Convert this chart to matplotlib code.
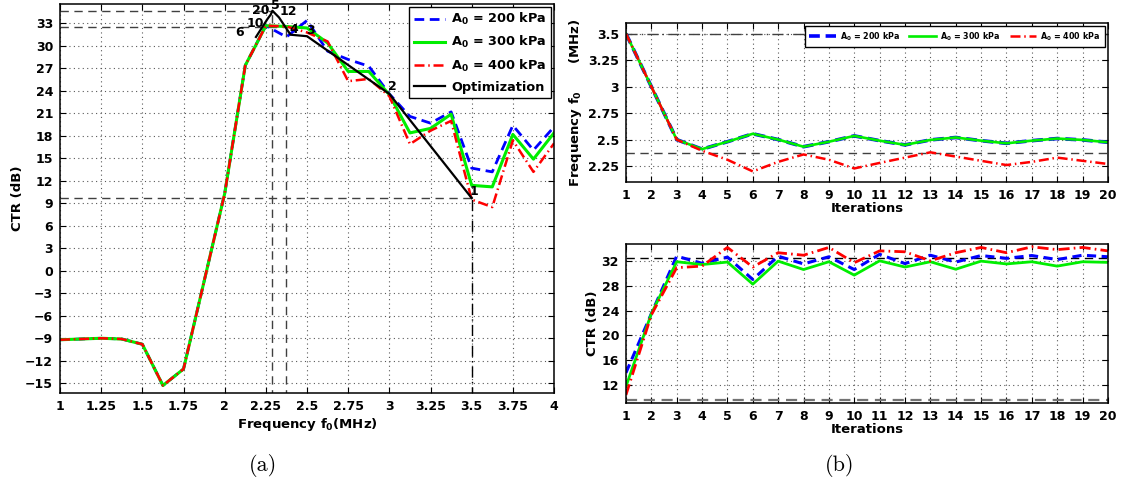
import matplotlib
matplotlib.use("Agg")
import matplotlib.pyplot as plt
import numpy as np

plt.rcParams['font.family'] = ['DejaVu Sans']
plt.rcParams['font.weight'] = 'bold'
plt.rcParams['mathtext.default'] = 'bf'
plt.rcParams['axes.linewidth'] = 1.1

# ---------------- data (a) ----------------
freq = [1.0, 1.125, 1.25, 1.375, 1.5, 1.625, 1.75, 1.875, 2.0, 2.125, 2.25, 2.375,
        2.5, 2.625, 2.75, 2.875, 3.0, 3.125, 3.25, 3.375, 3.5, 3.625, 3.75, 3.875, 4.0]
ctr_200 = [-9.2, -9.1, -9.0, -9.1, -9.8, -15.3, -13.1, -1.4, 10.3, 27.4, 32.7, 31.2,
           33.4, 29.3, 28.2, 27.3, 23.6, 20.6, 19.7, 21.2, 13.7, 13.2, 19.4, 16.1, 19.2]
ctr_300 = [-9.2, -9.1, -9.0, -9.1, -9.8, -15.3, -13.1, -1.4, 10.3, 27.4, 32.7, 32.6,
           32.4, 30.4, 26.6, 26.6, 23.5, 18.4, 19.0, 20.9, 11.4, 11.2, 18.2, 14.9, 18.4]
ctr_400 = [-9.2, -9.1, -9.0, -9.1, -9.8, -15.3, -13.1, -1.4, 10.3, 27.4, 32.7, 32.6,
           31.8, 30.6, 25.3, 25.6, 23.3, 16.9, 18.7, 20.0, 9.5, 8.5, 17.4, 13.2, 17.0]

opt_freq = [2.19, 2.26, 2.28, 2.29, 2.33, 2.40, 2.50, 3.0, 3.5]
opt_ctr = [31.2, 33.6, 34.2, 34.7, 33.8, 31.5, 31.3, 23.6, 9.7]
opt_labels = ['6', '10', '20', '5', '12', '4', '3', '2', '1']

ref_h_a = [34.7, 32.5, 9.7]
ref_h_a_end = [2.29, 2.375, 3.5]
ref_v_a = [2.29, 2.375, 3.5]
ref_v_a_top = [34.7, 32.5, 9.7]

xticks_a = [1, 1.25, 1.5, 1.75, 2, 2.25, 2.5, 2.75, 3, 3.25, 3.5, 3.75, 4]
xtick_labels_a = ['1', '1.25', '1.5', '1.75', '2', '2.25', '2.5', '2.75', '3',
                  '3.25', '3.5', '3.75', '4']
yticks_a = list(range(-15, 34, 3))

# ---------------- data (b) ----------------
iters = list(range(1, 21))
f_200 = [3.5, 3.0, 2.5, 2.41, 2.48, 2.555, 2.50, 2.433, 2.48, 2.535,
         2.49, 2.45, 2.497, 2.52, 2.49, 2.465, 2.49, 2.51, 2.497, 2.475]
f_300 = [3.5, 3.0, 2.5, 2.41, 2.48, 2.555, 2.50, 2.433, 2.48, 2.535,
         2.49, 2.45, 2.497, 2.52, 2.49, 2.465, 2.49, 2.51, 2.497, 2.475]
f_400 = [3.5, 3.0, 2.5, 2.395, 2.31, 2.2, 2.29, 2.36, 2.31, 2.228,
         2.28, 2.33, 2.38, 2.34, 2.30, 2.26, 2.29, 2.33, 2.30, 2.27]
ref_f = [3.5, 2.375]

c_200 = [14.0, 23.5, 32.75, 31.6, 32.6, 29.0, 32.75, 31.5, 32.65, 30.6,
         33.05, 31.55, 32.9, 31.8, 32.85, 32.4, 32.85, 32.2, 32.9, 32.65]
c_300 = [11.8, 23.5, 31.85, 31.4, 31.8, 28.25, 31.95, 30.6, 31.85, 29.7,
         32.0, 31.0, 31.85, 30.65, 31.95, 31.5, 31.85, 31.15, 31.85, 31.75]
c_400 = [10.45, 23.3, 30.9, 31.15, 34.15, 31.0, 33.3, 32.9, 34.15, 31.7,
         33.6, 33.45, 32.0, 33.3, 34.15, 33.3, 34.25, 33.8, 34.15, 33.6]
ref_c = [32.4, 9.7]

legend_labels = ['A$_0$ = 200 kPa', 'A$_0$ = 300 kPa', 'A$_0$ = 400 kPa']

BLUE = '#0000ff'
GREEN = '#00ee00'
RED = '#ff0000'
REFC = '#404040'

fig = plt.figure(figsize=(11.24, 4.86), dpi=100)


def style_axes(ax, fs=9):
    ax.tick_params(direction='in', top=True, right=True, length=4, width=0.8,
                   labelsize=fs, pad=5)
    for lab in ax.get_xticklabels() + ax.get_yticklabels():
        lab.set_fontweight('bold')
    ax.grid(True, linestyle=(0, (1, 3)), color='0.35', linewidth=0.8)
    ax.set_axisbelow(True)


# ---------------- (a) ----------------
ax = fig.add_axes([0.0534, 0.1914, 0.4395, 0.8004])
for y, xe in zip(ref_h_a[:2], ref_h_a_end[:2]):
    ax.plot([1, xe], [y, y], color=REFC, lw=1.0, ls=(0, (6, 4)))
ax.plot([1, ref_h_a_end[2]], [ref_h_a[2]] * 2, color=REFC, lw=1.0, ls=(0, (6, 4)))
for xv, yt in zip(ref_v_a[:2], ref_v_a_top[:2]):
    ax.plot([xv, xv], [-17, yt], color=REFC, lw=1.0, ls=(0, (6, 4)))
ax.plot([ref_v_a[2]] * 2, [-17, ref_v_a_top[2]], color='k', lw=1.0,
        ls=(0, (8, 3, 1, 3)))

ax.plot(freq, ctr_200, color=BLUE, lw=2.0, dashes=(3.5, 2.0), label=legend_labels[0])
ax.plot(freq, ctr_300, color=GREEN, lw=2.2, label=legend_labels[1])
ax.plot(freq, ctr_400, color=RED, lw=1.8, dashes=(4, 1.5, 0.6, 1.5), label=legend_labels[2])
ax.plot(opt_freq, opt_ctr, color='k', lw=1.6, label='Optimization')

label_off = {'6': (-16, 4), '10': (-12, -5), '20': (-10, 4), '5': (3, 5),
             '12': (9, 6), '4': (3, 5), '3': (3, 6), '2': (3, 7), '1': (2, 7)}
for fx, cy, lab in zip(opt_freq, opt_ctr, opt_labels):
    dx, dy = label_off[lab]
    ax.annotate(lab, (fx, cy), xytext=(dx, dy), textcoords='offset pixels',
                ha='center', va='center', fontsize=9, fontweight='bold',
                annotation_clip=False)

ax.set_xlim(1, 4)
ax.set_ylim(-16.3, 35.6)
ax.set_xticks(xticks_a)
ax.set_xticklabels(xtick_labels_a)
ax.set_yticks(yticks_a)
style_axes(ax, 9)
ax.set_xlabel('Frequency f$_0$(MHz)', fontsize=9.5, fontweight='bold', labelpad=2)
ax.set_ylabel('CTR (dB)', fontsize=9.5, fontweight='bold', labelpad=1)
leg = ax.legend(loc='upper right', fontsize=9.3, frameon=True, fancybox=False,
                edgecolor='k', framealpha=1, borderaxespad=0.2, handlelength=2.4,
                labelspacing=0.55, borderpad=0.35, handletextpad=0.5)
leg.get_frame().set_linewidth(1.0)
for t in leg.get_texts():
    t.set_fontweight('bold')

# ---------------- (b) top ----------------
ax2 = fig.add_axes([0.5569, 0.6255, 0.4288, 0.3272])
ax2.plot([1, 20], [ref_f[0]] * 2, color=REFC, lw=1.0, ls=(0, (8, 3, 1, 3)))
ax2.plot([1, 20], [ref_f[1]] * 2, color=REFC, lw=1.0, ls=(0, (6, 4)))
ax2.plot(iters, f_200, color=BLUE, lw=2.6, dashes=(3.0, 1.6), label=legend_labels[0])
ax2.plot(iters, f_300, color=GREEN, lw=1.9, label=legend_labels[1])
ax2.plot(iters, f_400, color=RED, lw=1.8, dashes=(4, 1.5, 0.6, 1.5), label=legend_labels[2])
ax2.set_xlim(1, 20)
ax2.set_ylim(2.1, 3.6)
ax2.set_xticks(iters)
ax2.set_yticks([2.25, 2.5, 2.75, 3, 3.25, 3.5])
ax2.set_yticklabels(['2.25', '2.5', '2.75', '3', '3.25', '3.5'])
style_axes(ax2, 9)
ax2.set_xlabel('Iterations', fontsize=9.5, fontweight='bold', labelpad=0)
ax2.set_ylabel('Frequency f$_0$      (MHz)', fontsize=9.5, fontweight='bold', labelpad=3)
leg2 = ax2.legend(loc='upper right', ncol=3, fontsize=5.8, frameon=True, fancybox=False,
                  edgecolor='k', framealpha=1, borderaxespad=0.4, handlelength=3.3,
                  borderpad=0.5, columnspacing=1.2, handletextpad=0.5)
leg2.get_frame().set_linewidth(1.0)
for t in leg2.get_texts():
    t.set_fontweight('bold')

# ---------------- (b) bottom ----------------
ax3 = fig.add_axes([0.5569, 0.1714, 0.4288, 0.3265])
ax3.plot([1, 20], [ref_c[0]] * 2, color='k', lw=1.0, ls=(0, (6, 4)))
ax3.plot([1, 20], [ref_c[1]] * 2, color='0.45', lw=1.6, ls=(0, (5, 3)))
ax3.plot(iters, c_200, color=BLUE, lw=2.2, dashes=(3.0, 1.8))
ax3.plot(iters, c_300, color=GREEN, lw=2.0)
ax3.plot(iters, c_400, color=RED, lw=2.0, dashes=(4, 1.5, 0.6, 1.5))
ax3.set_xlim(1, 20)
ax3.set_ylim(9.2, 34.7)
ax3.set_xticks(iters)
ax3.set_yticks([12, 16, 20, 24, 28, 32])
style_axes(ax3, 9)
ax3.set_xlabel('Iterations', fontsize=9.5, fontweight='bold', labelpad=0)
ax3.set_ylabel('CTR (dB)', fontsize=9.5, fontweight='bold', labelpad=2)

# captions
fig.text(263 / 1124, 1 - 465 / 486, '(a)', family='cmr10', fontsize=16,
         fontweight='normal', ha='center', va='center')
fig.text(840 / 1124, 1 - 465 / 486, '(b)', family='cmr10', fontsize=16,
         fontweight='normal', ha='center', va='center')

fig.savefig('out.png', dpi=100)
